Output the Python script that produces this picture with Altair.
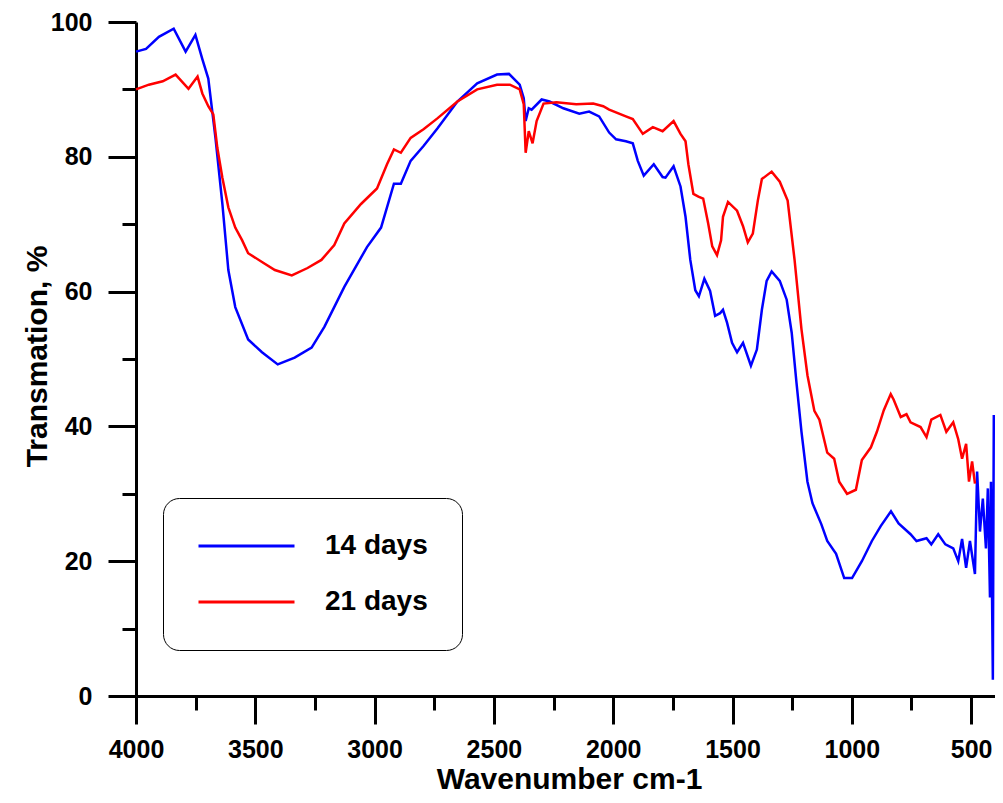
import altair as alt
import pandas as pd

# ---- data ----
series_names = ["14 days", "21 days"]

w14 = [4000, 3958, 3904, 3842, 3792, 3751, 3722, 3697, 3667, 3638, 3613, 3584, 3530, 3472,
       3406, 3335, 3264, 3210, 3127, 3032, 2973, 2919, 2890, 2849, 2795, 2737, 2653, 2570,
       2487, 2437, 2392, 2375, 2367, 2354, 2342, 2300, 2267, 2209, 2142, 2101, 2059, 2017,
       1988, 1947, 1918, 1897, 1872, 1830, 1793, 1781, 1747, 1718, 1697, 1677, 1656, 1641,
       1618, 1594, 1573, 1552, 1540, 1523, 1502, 1481, 1456, 1423, 1398, 1377, 1357, 1336,
       1302, 1273, 1252, 1232, 1211, 1186, 1165, 1128, 1103, 1066, 1032, 999, 958, 916,
       879, 836, 804, 754, 729, 687, 667, 638, 608, 575, 554, 538, 521, 505, 484, 475,
       463, 451, 438, 430, 421, 417, 409, 405]
t14 = [95.6, 96.0, 97.8, 99.0, 95.6, 98.1, 94.5, 91.6, 82.8, 73.0, 63.2, 57.7, 52.9, 51.0,
       49.2, 50.2, 51.7, 54.8, 60.7, 66.6, 69.5, 76.0, 76.0, 79.4, 81.6, 84.2, 88.2, 90.9,
       92.2, 92.3, 90.7, 88.7, 85.3, 87.2, 87.0, 88.5, 88.2, 87.2, 86.4, 86.7, 86.0, 83.6,
       82.6, 82.3, 82.0, 79.4, 77.2, 78.9, 77.0, 76.9, 78.6, 75.6, 71.1, 64.7, 60.2, 59.3,
       61.9, 60.1, 56.4, 56.8, 57.3, 55.4, 52.4, 51.0, 52.4, 49.0, 51.4, 57.3, 61.6, 63.0,
       61.6, 58.8, 53.9, 46.5, 39.2, 31.8, 28.6, 25.5, 23.0, 21.1, 17.5, 17.5, 20.0, 23.0,
       25.2, 27.4, 25.6, 24.0, 23.0, 23.4, 22.5, 24.0, 22.5, 21.9, 20.0, 23.3, 19.0, 23.0,
       18.1, 33.3, 24.4, 29.3, 21.9, 30.8, 14.6, 31.8, 2.4, 41.7]

w21 = [4000, 3946, 3888, 3834, 3780, 3742, 3722, 3697, 3676, 3659, 3638, 3613, 3584, 3555,
       3530, 3472, 3418, 3347, 3281, 3223, 3169, 3127, 3057, 2990, 2948, 2919, 2890, 2849,
       2795, 2737, 2653, 2570, 2487, 2433, 2392, 2375, 2367, 2354, 2338, 2321, 2292, 2238,
       2155, 2084, 2042, 2017, 1947, 1918, 1876, 1834, 1793, 1747, 1718, 1697, 1685, 1664,
       1643, 1623, 1602, 1585, 1565, 1548, 1540, 1519, 1481, 1456, 1436, 1415, 1394, 1377,
       1336, 1302, 1269, 1240, 1211, 1186, 1157, 1136, 1103, 1074, 1053, 1020, 983, 958,
       920, 895, 866, 837, 825, 795, 771, 754, 712, 687, 667, 629, 604, 575, 554, 538,
       521, 509, 496, 484]
t21 = [90.0, 90.7, 91.2, 92.2, 90.1, 91.9, 89.4, 87.5, 86.3, 81.3, 76.9, 72.5, 69.5, 67.6,
       65.7, 64.4, 63.2, 62.4, 63.5, 64.7, 66.9, 70.1, 73.0, 75.3, 78.9, 81.1, 80.6, 82.8,
       84.1, 85.7, 88.2, 90.0, 90.7, 90.7, 90.0, 87.8, 80.6, 83.8, 82.0, 85.3, 87.9, 88.1,
       87.8, 87.9, 87.5, 87.0, 86.0, 85.6, 83.4, 84.4, 83.8, 85.3, 83.4, 82.3, 78.9, 74.5,
       74.1, 73.8, 70.1, 66.7, 65.4, 67.6, 71.1, 73.3, 72.0, 69.7, 67.3, 68.6, 73.5, 76.7,
       77.8, 76.3, 73.5, 64.7, 54.4, 47.6, 42.3, 41.0, 36.1, 35.2, 31.8, 30.0, 30.6, 35.0,
       36.9, 39.2, 42.4, 44.8, 44.0, 41.4, 41.8, 40.6, 39.9, 38.4, 41.0, 41.7, 39.2, 40.6,
       38.1, 35.2, 37.4, 31.8, 34.8, 31.5]

x_tick_values = list(range(4000, 399, -250))
y_tick_values = list(range(0, 101, 10))
series_colors = ["#0000FF", "#FF0000"]

rows = []
for i, (w, t) in enumerate(zip(w14, t14)):
    rows.append({"wavenumber": w, "transmission": t, "series": series_names[0], "order": i})
for i, (w, t) in enumerate(zip(w21, t21)):
    rows.append({"wavenumber": w, "transmission": t, "series": series_names[1], "order": i})
df = pd.DataFrame(rows)

FONT = "Liberation Sans"

x_axis = alt.Axis(
    values=x_tick_values,
    format="d",
    labelExpr="datum.value % 500 === 0 ? datum.label : ''",
    tickSize={"condition": {"test": "datum.value % 500 === 0", "value": 28}, "value": 14},
    tickWidth=3,
    tickColor="black",
    domainColor="black",
    domainWidth=3,
    grid=False,
    labelFont=FONT,
    labelFontSize=25,
    labelFontWeight="bold",
    labelColor="black",
    labelPadding=13,
    labelFlush=False,
    labelOverlap=False,
    title="Wavenumber cm-1",
    titleFont=FONT,
    titleFontSize=30,
    titleFontWeight="bold",
    titleColor="black",
    titleX=433,
    titleY=92,
    titleAlign="center",
    titleBaseline="alphabetic",
)

y_axis = alt.Axis(
    values=y_tick_values,
    labelExpr="datum.value % 20 === 0 ? datum.label : ''",
    tickSize={"condition": {"test": "datum.value % 20 === 0", "value": 28}, "value": 14},
    tickWidth=3,
    tickColor="black",
    domainColor="black",
    domainWidth=3,
    grid=False,
    labelFont=FONT,
    labelFontSize=25,
    labelFontWeight="bold",
    labelColor="black",
    labelPadding=16,
    labelFlush=False,
    labelOverlap=False,
    title="Transmation, %",
    titleFont=FONT,
    titleFontSize=30,
    titleFontWeight="bold",
    titleColor="black",
    titleAngle=270,
    titleX=-90,
    titleY=334,
    titleAlign="center",
    titleBaseline="alphabetic",
)

legend = alt.Legend(
    orient="none",
    legendX=27,
    legendY=476,
    direction="vertical",
    title=None,
    symbolType="stroke",
    symbolSize=9216,
    symbolStrokeWidth=3,
    clipHeight=28,
    labelFont=FONT,
    labelFontSize=28,
    labelFontWeight="bold",
    labelColor="black",
    labelOffset=29,
    rowPadding=28,
    padding=34,
    strokeColor="black",
    fillColor="white",
    cornerRadius=16,
)

chart = (
    alt.Chart(df)
    .mark_line(strokeWidth=2.5)
    .encode(
        x=alt.X("wavenumber:Q", scale=alt.Scale(domain=[400, 4000], reverse=True, nice=False, zero=False), axis=x_axis),
        y=alt.Y("transmission:Q", scale=alt.Scale(domain=[0, 100], nice=False, zero=False), axis=y_axis),
        color=alt.Color("series:N", scale=alt.Scale(domain=series_names, range=series_colors), legend=legend),
        order=alt.Order("order:Q"),
    )
    .properties(
        width=859,
        height=674,
        padding={"left": 128, "top": 14, "right": 0, "bottom": 99},
        autosize=alt.AutoSizeParams(type="none"),
        background="white",
    )
    .configure_view(stroke=None)
)

chart.save("out.html", embed_options={"renderer": "svg", "actions": False})
